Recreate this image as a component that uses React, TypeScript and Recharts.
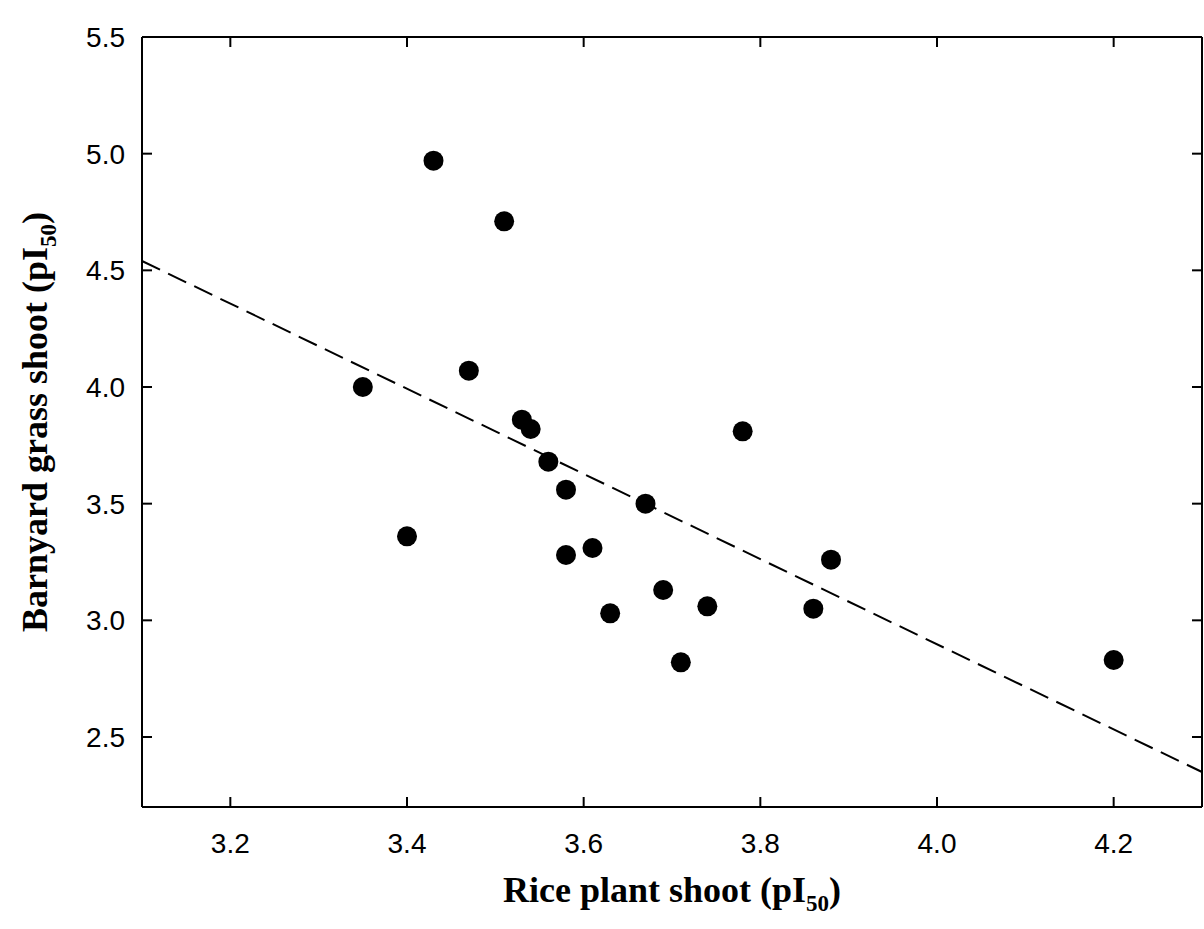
import { ScatterChart, Scatter, XAxis, YAxis, ReferenceLine } from 'recharts'

// rice plant shoot pI50 (x) vs barnyard grass shoot pI50 (y)
const RICE = [3.35, 3.40, 3.43, 3.47, 3.51, 3.53, 3.54, 3.56, 3.58, 3.58, 3.61, 3.63, 3.67, 3.69, 3.71, 3.74, 3.78, 3.86, 3.88, 4.20]
const BARNYARD = [4.00, 3.36, 4.97, 4.07, 4.71, 3.86, 3.82, 3.68, 3.56, 3.28, 3.31, 3.03, 3.50, 3.13, 2.82, 3.06, 3.81, 3.05, 3.26, 2.83]

// dashed regression line end points
const FIT_X = [3.1, 4.3]
const FIT_Y = [4.54, 2.35]

const X_TICKS = [3.2, 3.4, 3.6, 3.8, 4.0, 4.2]
const Y_TICKS = [2.5, 3.0, 3.5, 4.0, 4.5, 5.0, 5.5]
const X_DOMAIN = [3.1, 4.3]
const Y_DOMAIN = [2.2, 5.5]

const data = RICE.map((x, i) => ({ x, y: BARNYARD[i] }))

const TICK_FAMILY = '"Liberation Sans", Arial, sans-serif'
const LABEL_FONT = '"Liberation Serif", "Times New Roman", serif'
const AXIS_LINE = { stroke: '#000', strokeWidth: 2 }
const TICK_LEN = 10

function Dot(props: any) {
  return <circle cx={props.cx} cy={props.cy} r={10} fill="#000" />
}

// inward ticks drawn by hand; with tickSize 0 and tickMargin 0, x/y sit on the axis line
function BottomTick(props: any) {
  const { x, y, payload } = props
  return (
    <g>
      <line x1={x} x2={x} y1={y} y2={y - TICK_LEN} stroke="#000" strokeWidth={2} />
      <text x={x} y={y + 46} textAnchor="middle" fontFamily={TICK_FAMILY} fontSize={28} fill="#000">
        {payload.value.toFixed(1)}
      </text>
    </g>
  )
}

function TopTick(props: any) {
  const { x, y } = props
  return <line x1={x} x2={x} y1={y} y2={y + TICK_LEN} stroke="#000" strokeWidth={2} />
}

function LeftTick(props: any) {
  const { x, y, payload } = props
  return (
    <g>
      <line x1={x} x2={x + TICK_LEN} y1={y} y2={y} stroke="#000" strokeWidth={2} />
      <text x={x - 17} y={y + 10} textAnchor="end" fontFamily={TICK_FAMILY} fontSize={28} fill="#000">
        {payload.value.toFixed(1)}
      </text>
    </g>
  )
}

function RightTick(props: any) {
  const { x, y } = props
  return <line x1={x} x2={x - TICK_LEN} y1={y} y2={y} stroke="#000" strokeWidth={2} />
}

function XLabel(props: any) {
  const vb = props.viewBox
  return (
    <text x={vb.x + vb.width / 2} y={902} textAnchor="middle" fontFamily={LABEL_FONT} fontWeight="bold" fontSize={36} fill="#000">
      Rice plant shoot (pI<tspan fontSize={23} dy={9}>50</tspan><tspan dy={-9}>)</tspan>
    </text>
  )
}

function YLabel(props: any) {
  const vb = props.viewBox
  const cy = vb.y + vb.height / 2
  return (
    <text x={47} y={cy} transform={`rotate(-90, 47, ${cy})`} textAnchor="middle" fontFamily={LABEL_FONT} fontWeight="bold" fontSize={36} fill="#000">
      Barnyard grass shoot (pI<tspan fontSize={23} dy={9}>50</tspan><tspan dy={-9}>)</tspan>
    </text>
  )
}

export default function App() {
  return (
    <div style={{ position: 'absolute', left: 0, top: 0, background: '#fff' }}>
      <ScatterChart width={1204} height={929} margin={{ top: 0, right: 0, bottom: 0, left: 0 }}>
        <XAxis
          type="number"
          dataKey="x"
          domain={X_DOMAIN}
          ticks={X_TICKS}
          height={122}
          axisLine={AXIS_LINE}
          tickLine={false}
          tickSize={0}
          tickMargin={0}
          tick={BottomTick}
          label={{ content: XLabel }}
          allowDataOverflow
        />
        <XAxis
          xAxisId="top"
          orientation="top"
          type="number"
          dataKey="x"
          domain={X_DOMAIN}
          ticks={X_TICKS}
          height={37}
          axisLine={AXIS_LINE}
          tickLine={false}
          tickSize={0}
          tickMargin={0}
          tick={TopTick}
          allowDataOverflow
        />
        <YAxis
          type="number"
          dataKey="y"
          domain={Y_DOMAIN}
          ticks={Y_TICKS}
          width={142}
          axisLine={AXIS_LINE}
          tickLine={false}
          tickSize={0}
          tickMargin={0}
          tick={LeftTick}
          label={{ content: YLabel }}
          allowDataOverflow
        />
        <YAxis
          yAxisId="right"
          orientation="right"
          type="number"
          dataKey="y"
          domain={Y_DOMAIN}
          ticks={Y_TICKS}
          width={2}
          axisLine={AXIS_LINE}
          tickLine={false}
          tickSize={0}
          tickMargin={0}
          tick={RightTick}
          allowDataOverflow
        />
        <ReferenceLine
          segment={[{ x: FIT_X[0], y: FIT_Y[0] }, { x: FIT_X[1], y: FIT_Y[1] }]}
          stroke="#000"
          strokeWidth={2}
          strokeDasharray="20 9"
          ifOverflow="visible"
        />
        <Scatter data={data} shape={Dot} isAnimationActive={false} />
      </ScatterChart>
    </div>
  )
}
